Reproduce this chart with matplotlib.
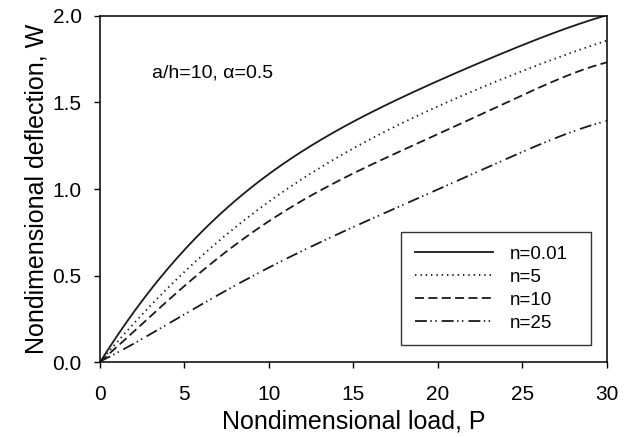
import matplotlib
matplotlib.use('Agg')
import matplotlib.pyplot as plt
import numpy as np

plt.rcParams['font.family'] = ['Liberation Sans', 'DejaVu Sans']

# load values P
load = [0, 2.5, 5, 7.5, 10, 12.5, 15, 17.5, 20, 22.5, 25, 27.5, 30]

# deflection W for each n
w_n001 = [0, 0.34, 0.66, 0.89, 1.08, 1.25, 1.39, 1.51, 1.63, 1.73, 1.83, 1.925, 2.005]
w_n5   = [0, 0.27, 0.52, 0.74, 0.93, 1.09, 1.23, 1.36, 1.48, 1.59, 1.68, 1.77, 1.86]
w_n10  = [0, 0.22, 0.435, 0.64, 0.82, 0.96, 1.09, 1.20, 1.32, 1.43, 1.55, 1.64, 1.735]
w_n25  = [0, 0.14, 0.27, 0.41, 0.55, 0.67, 0.78, 0.89, 0.99, 1.11, 1.22, 1.31, 1.395]

labels = ['n=0.01', 'n=5', 'n=10', 'n=25']

fig = plt.figure(figsize=(6.32, 4.37), dpi=100)
ax = fig.add_axes([0.1578, 0.1716, 0.8026, 0.7918])

# smooth through the read points
p_fine = np.linspace(0, 30, 301)
styles = [dict(linestyle='-'),
          dict(linestyle=(0, (0.8, 2.15))),
          dict(linestyle=(0, (5, 2.4))),
          dict(linestyle=(0, (6.6, 1.9, 0.8, 1.9, 0.8, 2.8)))]

for w, lab, st in zip([w_n001, w_n5, w_n10, w_n25], labels, styles):
    coef = np.polyfit(load, w, 5)
    wf = np.polyval(coef, p_fine)
    wf[0] = 0
    ax.plot(p_fine, wf, color='#1a1a1a', lw=1.3, label=lab, **st)

ax.set_xlim(0, 30)
ax.set_ylim(0, 2.0)
ax.set_xticks([0, 5, 10, 15, 20, 25, 30])
ax.set_yticks([0.0, 0.5, 1.0, 1.5, 2.0])
ax.set_yticklabels(['0.0', '0.5', '1.0', '1.5', '2.0'])
ax.tick_params(direction='out', length=4, width=1, labelsize=15, top=False, right=False)
ax.tick_params(axis='x', pad=12.5)
ax.tick_params(axis='y', pad=9)
for sp in ax.spines.values():
    sp.set_linewidth(1.1)

ax.set_xlabel('Nondimensional load, P', fontsize=18, labelpad=4)
ax.set_ylabel('Nondimensional deflection, W', fontsize=18, labelpad=3)

ax.text(0.1025, 0.835, 'a/h=10, \u03b1=0.5', transform=ax.transAxes,
        fontsize=14, va='center')

leg = ax.legend(loc='upper left', bbox_to_anchor=(0.594, 0.376, 0.3745, 0),
                mode='expand', fontsize=13.5,
                handlelength=4.2, frameon=True, fancybox=False,
                borderpad=0.72, labelspacing=0.32, handletextpad=0.89, borderaxespad=0)
leg.get_frame().set_edgecolor('black')
leg.get_frame().set_linewidth(1.0)

fig.savefig('out.png', dpi=100)
